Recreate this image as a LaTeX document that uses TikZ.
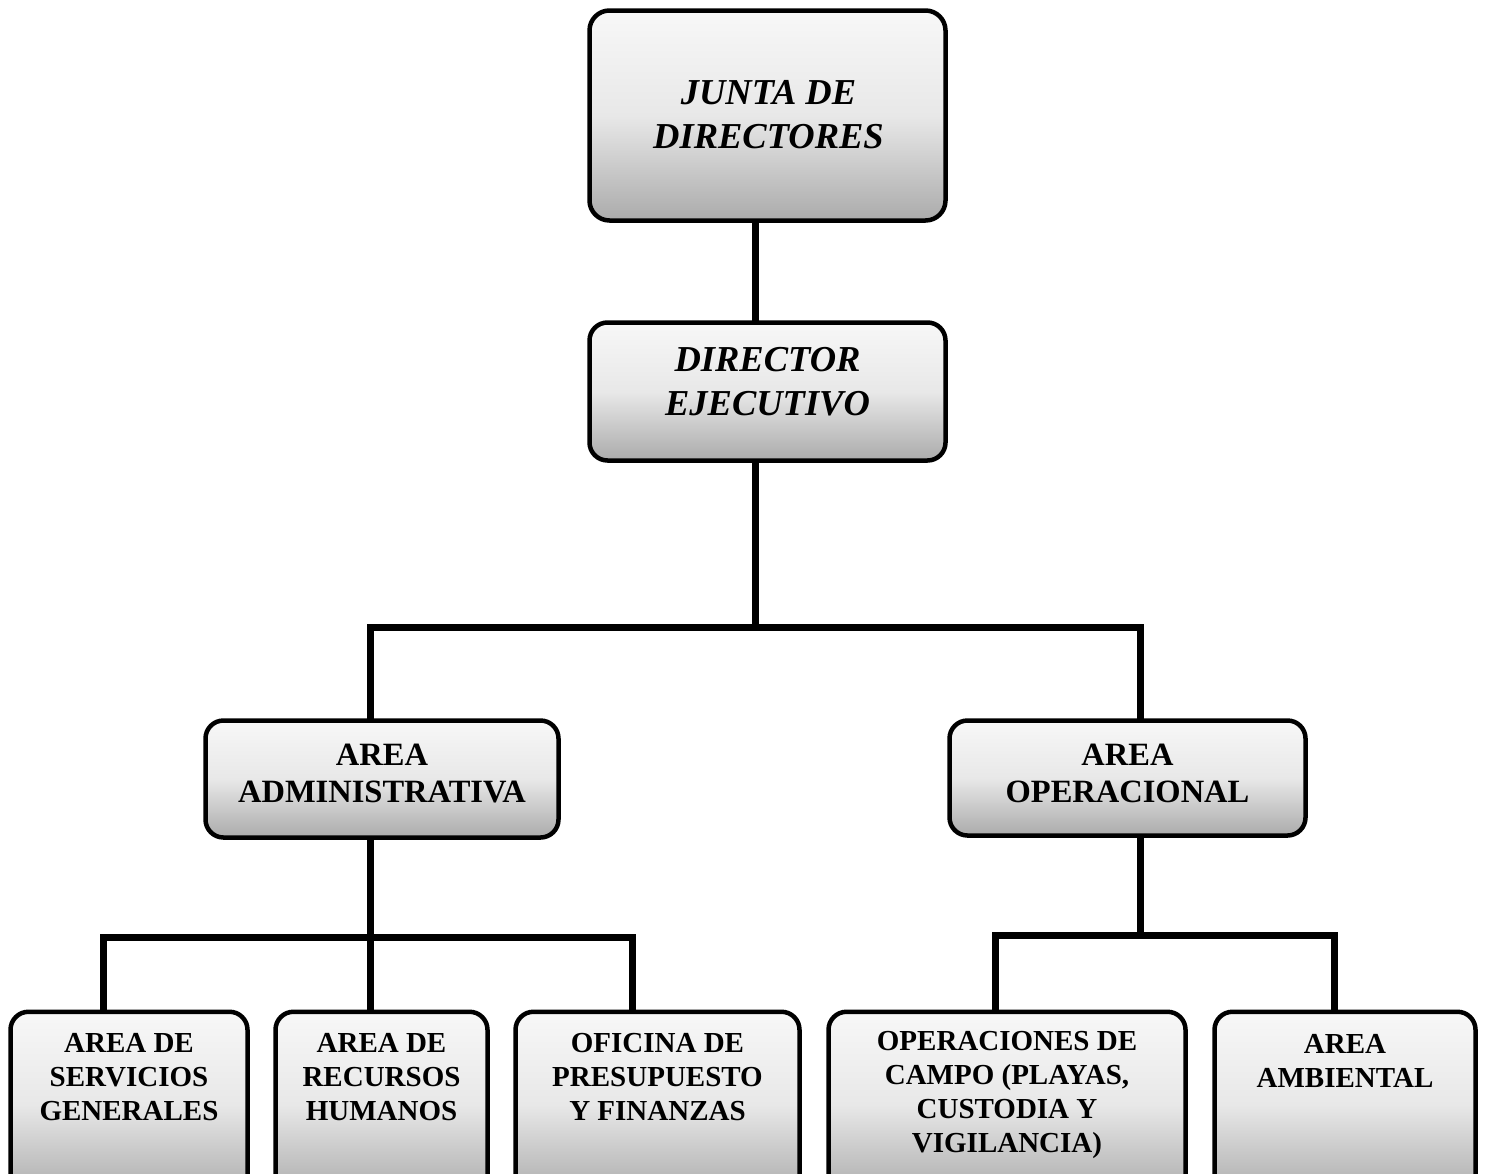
\documentclass[tikz,border=0pt]{standalone}
\usepackage{fontspec}
\setmainfont{Liberation Serif}
\begin{document}
\begin{tikzpicture}[x=1pt,y=-1pt,
  box/.style={draw=black, line width=4.5pt, rounded corners=20pt, shape=rectangle,
    top color=black!3, bottom color=black!33, middle color=black!9, inner sep=0pt},
  conn/.style={line width=7pt, line cap=rect, line join=miter},
  topfont/.style={font=\fontsize{36.5}{44}\selectfont\bfseries\itshape, align=center},
  midfont/.style={font=\fontsize{32.5}{37}\selectfont\bfseries, align=center},
  lowfont/.style={font=\fontsize{29}{34}\selectfont\bfseries, align=center}]
\useasboundingbox (0,0) rectangle (1487,1173);
\clip (0,0) rectangle (1487,1173);
\fill[white] (0,0) rectangle (1487,1173);
% connector junction coordinates
\coordinate (h1) at (755,627);
\coordinate (h2) at (370,937);
\coordinate (h3) at (1140,935);
% boxes
\node[box, minimum width=356, minimum height=210] (jd) at (767.5,115.5) {};
\node[box, minimum width=356, minimum height=138, rounded corners=18pt] (de) at (767.5,391.5) {};
\node[box, minimum width=353, minimum height=117, rounded corners=18pt] (aa) at (382,779) {};
\node[box, minimum width=356, minimum height=115, rounded corners=18pt] (ao) at (1127.5,778) {};
\node[box, anchor=north, minimum width=237, minimum height=185, rounded corners=18pt] (sg) at (129,1009.5) {};
\node[box, anchor=north, minimum width=212, minimum height=185, rounded corners=18pt] (rh) at (381.5,1009.5) {};
\node[box, anchor=north, minimum width=284, minimum height=185, rounded corners=18pt] (pf) at (657.5,1009.5) {};
\node[box, anchor=north, minimum width=357, minimum height=185, rounded corners=18pt] (oc) at (1007,1009.5) {};
\node[box, anchor=north, minimum width=261, minimum height=185, rounded corners=18pt] (am) at (1345,1009.5) {};
% texts
\node[topfont] (tjd) at ([xshift=1pt,yshift=1pt]jd.center) {JUNTA DE\\DIRECTORES};
\node[topfont] (tde) at ([yshift=10pt]de.center) {DIRECTOR\\EJECUTIVO};
\node[midfont] (taa) at ([yshift=5.5pt]aa.center) {AREA\\ADMINISTRATIVA};
\node[midfont] (tao) at ([yshift=4.5pt]ao.center) {AREA\\OPERACIONAL};
\node[lowfont] (tsg) at ([yshift=-68pt]sg.north) {AREA DE\\SERVICIOS\\GENERALES};
\node[lowfont] (trh) at ([yshift=-68pt]rh.north) {AREA DE\\RECURSOS\\HUMANOS};
\node[lowfont] (tpf) at ([yshift=-68pt]pf.north) {OFICINA DE\\PRESUPUESTO\\Y FINANZAS};
\node[lowfont] (toc) at ([yshift=-85pt]oc.north) {OPERACIONES DE\\CAMPO (PLAYAS,\\CUSTODIA Y\\VIGILANCIA)};
\node[lowfont] (tam) at ([yshift=-51pt]am.north) {AREA\\AMBIENTAL};
% connectors
\draw[conn] ([xshift=-12.5pt]jd.south) -- ([xshift=-12.5pt]de.north);
\draw[conn] ([xshift=-12.5pt]de.south) -- (h1);
\draw[conn] ([xshift=-12pt]aa.north) |- (h1);
\draw[conn] ([xshift=12.5pt]ao.north) |- (h1);
\draw[conn] ([xshift=-12pt]aa.south) -- (h2);
\draw[conn] ([xshift=-26pt]sg.north) |- (h2);
\draw[conn] ([xshift=-11.5pt]rh.north) -- (h2);
\draw[conn] ([xshift=-25.5pt]pf.north) |- (h2);
\draw[conn] ([xshift=12.5pt]ao.south) -- (h3);
\draw[conn] ([xshift=-12pt]oc.north) |- (h3);
\draw[conn] ([xshift=-11pt]am.north) |- (h3);
\end{tikzpicture}
\end{document}
